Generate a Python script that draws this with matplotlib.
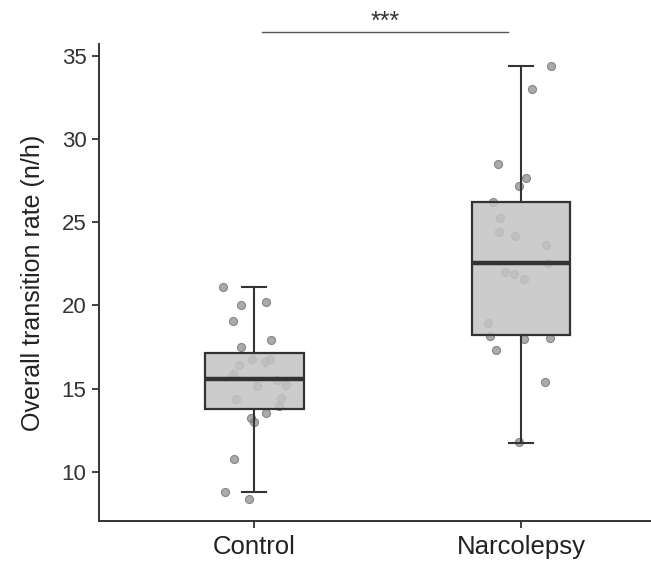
import matplotlib
matplotlib.use("Agg")
import matplotlib.pyplot as plt

plt.rcParams['font.family'] = ['Liberation Sans', 'DejaVu Sans']

groups = ["Control", "Narcolepsy"]

# box statistics
q1 = [13.76, 18.21]
med = [15.56, 22.53]
q3 = [17.16, 26.22]
whislo = [8.80, 11.73]
whishi = [21.09, 34.40]

# individual observations (values) and their horizontal jitter
control_vals = [21.09, 20.03, 20.21, 19.05, 17.52, 17.90, 16.44, 16.76, 16.62, 16.78,
                15.90, 15.52, 15.24, 15.14, 14.38, 14.46, 13.98, 13.52, 13.22, 12.98,
                10.77, 8.80, 8.34]
control_jit = [-0.118, -0.050, 0.044, -0.081, -0.051, 0.063, -0.056, -0.008, 0.041, 0.060,
               -0.079, 0.086, 0.120, 0.009, -0.069, 0.099, 0.093, 0.044, -0.012, 0.0,
               -0.075, -0.110, -0.021]
narco_vals = [34.42, 33.02, 28.51, 27.65, 27.20, 26.24, 25.26, 24.40, 24.19, 23.63,
              22.57, 21.99, 21.87, 21.59, 18.93, 18.18, 17.96, 18.04, 17.34, 15.37, 11.77]
narco_jit = [0.114, 0.041, -0.085, 0.018, -0.008, -0.104, -0.079, -0.084, -0.022, 0.094,
             0.100, -0.061, -0.026, 0.010, -0.123, -0.115, 0.010, 0.110, -0.094, 0.090, -0.008]

signif_label = "***"
ylabel = "Overall transition rate (n/h)"

fig = plt.figure(figsize=(6.51, 5.63), dpi=100)
ax = fig.add_axes([99/651, 42/563, 1 - 99/651, (521-44)/563])

# points
for i, (vals, jit) in enumerate([(control_vals, control_jit), (narco_vals, narco_jit)]):
    xs = [i + 1 + j for j in jit]
    ax.scatter(xs, vals, s=34, facecolor='#8a8a8a', edgecolor='#6a6a6a',
               linewidths=0.8, alpha=0.72, zorder=1)

stats = []
for i in range(2):
    stats.append(dict(med=med[i], q1=q1[i], q3=q3[i], whislo=whislo[i],
                      whishi=whishi[i], fliers=[], label=groups[i]))

ax.bxp(stats, positions=[1, 2], widths=0.37, capwidths=0.09, patch_artist=True,
       showfliers=False,
       boxprops=dict(facecolor=(0.77, 0.77, 0.77, 0.85), edgecolor='#333333', linewidth=1.6),
       medianprops=dict(color='#333333', linewidth=3.2),
       whiskerprops=dict(color='#333333', linewidth=1.5),
       capprops=dict(color='#333333', linewidth=1.5),
       zorder=2)

ax.set_xlim(0.418, 2.487)
ax.set_ylim(7.04, 35.72)
ax.set_yticks([10, 15, 20, 25, 30, 35])
ax.set_xticks([1, 2])
ax.set_xticklabels(groups)

for s in ['top', 'right']:
    ax.spines[s].set_visible(False)
for s in ['left', 'bottom']:
    ax.spines[s].set_color('#333333')
    ax.spines[s].set_linewidth(1.4)

ax.tick_params(axis='y', labelsize=16, length=5, width=1.3, color='#333333',
               labelcolor='#333333', pad=4)
ax.tick_params(axis='x', labelsize=18.5, length=5, width=1.3, color='#333333',
               labelcolor='#222222', pad=5)
ax.set_ylabel(ylabel, fontsize=18, color='#222222', labelpad=12)

# significance bar
ax.plot([1.028, 1.950], [36.46, 36.46], color='#555555', linewidth=1.0, clip_on=False)
ax.text(1.489, 36.35, signif_label, ha='center', va='bottom', fontsize=18,
        color='#333333', clip_on=False)

fig.savefig("out.png", dpi=100)
